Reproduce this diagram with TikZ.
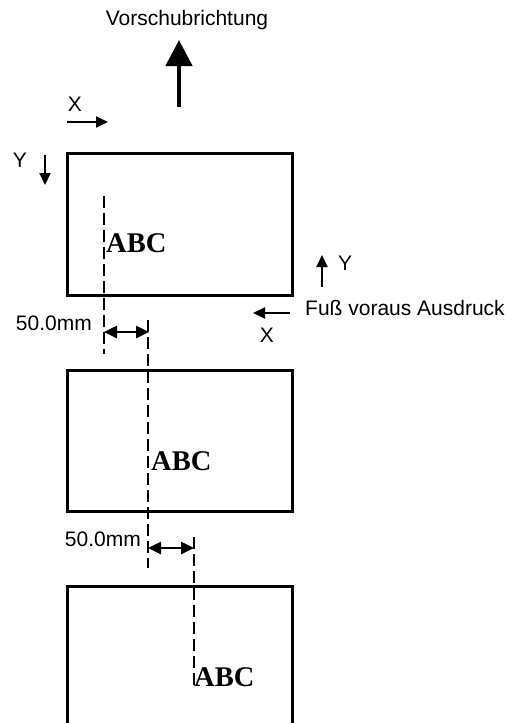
\documentclass[tikz,border=0pt]{standalone}
\usepackage{fontspec}
\setmainfont{Liberation Sans}
\newfontfamily\serifb{Liberation Serif}
\usetikzlibrary{arrows.meta}
\begin{document}
\begin{tikzpicture}[x=1pt,y=-1pt,
 lbl/.style={font=\fontsize{21}{25}\selectfont, inner sep=0pt},
 abc/.style={font=\serifb\bfseries\fontsize{28.5}{32}\selectfont, inner sep=0pt, anchor=west},
 sheet/.style={line width=3pt},
 guide/.style={line width=2pt, dash pattern=on 12pt off 5pt},
 dim/.style={line width=2.5pt, {Triangle[length=13pt,width=12pt]}-{Triangle[length=13pt,width=12pt]}},
 dirarrow/.style={line width=2pt,-{Triangle[length=12pt,width=11pt]}}]
\useasboundingbox (0,0) rectangle (526,723);
% feed direction
\node[lbl] (feed) at (187,20) {Vorschubrichtung};
\coordinate (fa0) at (179,107);
\coordinate (fa1) at (179,40);
\draw[line width=4.5pt,-{Triangle[length=26pt,width=26pt]}] (fa0) -- (fa1);
% top-left axes
\node[lbl] (xl) at (75,104) {X};
\coordinate (xa0) at (67,122); \coordinate (xa1) at (108,122);
\draw[dirarrow] (xa0) -- (xa1);
\node[lbl] (yl) at (20,160) {Y};
\coordinate (ya0) at (45,155); \coordinate (ya1) at (45,185);
\draw[dirarrow] (ya0) -- (ya1);
% sheets
\draw[sheet] (67,153) rectangle (292,295);
\draw[sheet] (67,370) rectangle (292,511);
\draw[sheet] (67,723) -- (67,586) -- (292,586) -- (292,723);
% guides and text
\coordinate (g1a) at (104,196); \coordinate (g1b) at (104,354);
\draw[guide] (g1a) -- (g1b);
\node[abc] (abc1) at (106,243) {ABC};
\coordinate (d1a) at (104,332); \coordinate (d1b) at (149,332);
\draw[dim] (d1a) -- (d1b);
\node[lbl,anchor=east] (m1) at (92,323) {50.0mm};
\coordinate (g2a) at (148,320); \coordinate (g2b) at (148,568);
\draw[guide] (g2a) -- (g2b);
\node[abc] (abc2) at (151,461) {ABC};
\coordinate (d2a) at (148,548); \coordinate (d2b) at (194,548);
\draw[dim] (d2a) -- (d2b);
\node[lbl,anchor=east] (m2) at (141,539) {50.0mm};
\coordinate (g3a) at (194,537); \coordinate (g3b) at (194,685);
\draw[guide] (g3a) -- (g3b);
\node[abc] (abc3) at (194,677) {ABC};
% right axes
\coordinate (ry0) at (322,287); \coordinate (ry1) at (322,255);
\draw[dirarrow] (ry0) -- (ry1);
\node[lbl] (ryl) at (345,263) {Y};
\coordinate (rx0) at (290,313); \coordinate (rx1) at (253,313);
\draw[dirarrow] (rx0) -- (rx1);
\node[lbl] (rxl) at (267,335) {X};
\node[lbl,anchor=west] (foot) at (305,308) {Fuß voraus Ausdruck};
\end{tikzpicture}
\end{document}
